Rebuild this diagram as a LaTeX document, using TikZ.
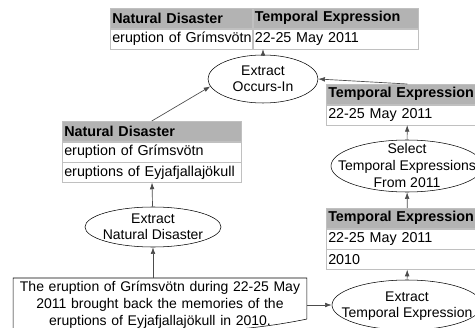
\documentclass[tikz,border=0pt]{standalone}
\usepackage{fontspec}
\setmainfont{Liberation Sans}
\usepackage{tikz}
\usetikzlibrary{shapes.geometric}
\usetikzlibrary{arrows.meta}
\usetikzlibrary{positioning}
\definecolor{headgray}{HTML}{B3B3B3}
\definecolor{gridgray}{HTML}{C0C0C0}
\newcommand{\proctext}[1]{\makebox[0pt]{\smash{\raisebox{-0.35em}{\begin{tabular}{@{}c@{}}#1\end{tabular}}}}}

\begin{document}
\begin{tikzpicture}[x=0.75pt,y=-0.75pt]
			\tikzset{head/.style = {draw=gridgray, fill=headgray, font=\fontsize{10.75}{13}\selectfont\bfseries, 
					minimum height=15pt, inner ysep=0pt, inner xsep=1.5pt, align=left, anchor=north west}}
			\tikzset{cell/.style = {draw=gridgray, fill=white, font=\fontsize{10.75}{13}\selectfont, 
					minimum height=15pt, inner ysep=0pt, inner xsep=1.5pt, align=left}}
			\tikzset{proc/.style = {shape=ellipse, draw, fill=white, inner sep=0pt, 
					font=\fontsize{10.5}{12.5}\selectfont}}
			\tikzset{edge/.style = {->, >={Latex[length=5pt,width=3.5pt]}, draw=black!70, line width=0.5pt}}
			
			\path[use as bounding box] (0,0) rectangle (475,328);
			\clip (0,0) rectangle (475,328);
			\fill[white] (0,0) rectangle (475,328);
			
			% tables
			\node[head, text width=103.5pt] (occND) at (110,8) {\mbox{Natural Disaster}};
			\node[head, text width=120.75pt, right=0pt of occND] (occTE) {\mbox{Temporal Expression}};
			\node[cell, text width=103.5pt, below=0pt of occND] (occNDrow) {\mbox{eruption of Grímsvötn}};
			\node[cell, text width=120.75pt, below=0pt of occTE] (occTErow) {\mbox{22-25 May 2011}};
			
			\node[head, text width=131.25pt] (ndHead) at (62,121) {\mbox{Natural Disaster}};
			\node[cell, text width=131.25pt, below=0pt of ndHead] (ndRowA) {\mbox{eruption of Grímsvötn}};
			\node[cell, text width=131.25pt, below=0pt of ndRowA] (ndRowB) {\mbox{eruptions of Eyjafjallajökull}};
			
			\node[head, text width=118.5pt] (selHead) at (326,84) {\mbox{Temporal Expression}};
			\node[cell, text width=118.5pt, below=0pt of selHead] (selRow) {\mbox{22-25 May 2011}};
			
			\node[head, text width=118.5pt] (teHead) at (326,208) {\mbox{Temporal Expression}};
			\node[cell, text width=118.5pt, below=0pt of teHead] (teRowA) {\mbox{22-25 May 2011}};
			\node[cell, text width=118.5pt, below=0pt of teRowA] (teRowB) {\mbox{2010}};
			
			% processes
			\node[proc, minimum width=82.5pt, minimum height=36pt] (occurs) at (263,79) {\proctext{Extract\\Occurs-In}};
			\node[proc, minimum width=114pt, minimum height=39pt] (select) at (407,166) {\proctext{Select\\Temporal Expressions\\From 2011}};
			\node[proc, minimum width=102pt, minimum height=30pt] (extND) at (153,227) {\proctext{Extract\\Natural Disaster}};
			\node[proc, minimum width=112.5pt, minimum height=37.5pt] (extTE) at (407,305) {\proctext{Extract\\Temporal Expression}};
			
			% input text
			\node[font=\fontsize{10.5}{12.75}\selectfont, text width=212pt, align=center, inner xsep=4pt, 
					inner ysep=2.5pt, anchor=north] (sent) at (160,278) 
					{The eruption of Grímsvötn during 22-25 May\\ 2011 brought back the memories of the\\ 
					eruptions of Eyjafjallajökull in 2010.};
			\draw ([yshift=10pt]sent.south east) -- (sent.north east) -- (sent.north west) 
					-- ([yshift=-6pt]sent.south west) .. controls +(60pt,10pt) and +(-60pt,-4pt) .. 
					([yshift=-2pt]sent.south) .. controls +(60pt,4pt) and +(-30pt,-6pt) .. 
					([yshift=10pt]sent.south east);
			
			%edges
			\draw[edge] (occurs) to (occTErow.south -| occurs);
			\draw[edge] (ndHead.north) to (occurs.188);
			\draw[edge] (selHead.north) to (occurs.east);
			\draw[edge] (select) to (selRow);
			\draw[edge] (teHead) to (select);
			\draw[edge] (extTE) to (teRowB);
			\draw[edge] (sent.east |- extTE.west) to (extTE.west);
			\draw[edge] (sent.north -| extND.south) to (extND.south);
			\draw[edge] (extND) to (ndRowB);
			
\end{tikzpicture}
\end{document}
